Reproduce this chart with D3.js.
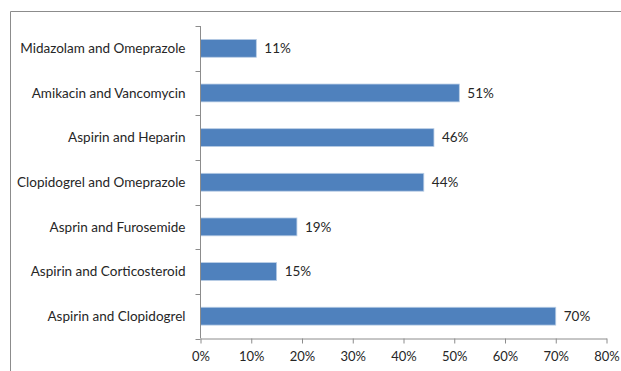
<!DOCTYPE html>
<html>
<head>
<meta charset="utf-8">
<script src="https://cdn.jsdelivr.net/npm/d3@7"></script>
<style>
  html, body { margin: 0; padding: 0; background: #fff; }
  svg { display: block; }
  text { font-family: Lato, "Open Sans", sans-serif; fill: #262626; }
</style>
</head>
<body>
<svg id="chart" width="621" height="371"></svg>
<script>
// Drug pairs, listed top to bottom as drawn
const categories = [
  "Midazolam and Omeprazole",
  "Amikacin and Vancomycin",
  "Aspirin and Heparin",
  "Clopidogrel and Omeprazole",
  "Asprin and Furosemide",
  "Aspirin and Corticosteroid",
  "Aspirin and Clopidogrel"
];
const values = [0.11, 0.51, 0.46, 0.44, 0.19, 0.15, 0.70];
const tickValues = [0, 0.1, 0.2, 0.3, 0.4, 0.5, 0.6, 0.7, 0.8];

const svg = d3.select("#chart");
const W = 621, H = 371;
const FS = 13.5;

// outer frame
svg.append("path")
  .attr("d", `M10.5,${H} V11.5 H${W}`)
  .attr("fill", "none")
  .attr("stroke", "#8c8c8c")
  .attr("stroke-width", 1);

const plot = { left: 200.5, right: 606.5, top: 26, bottom: 338.5 };

const x = d3.scaleLinear().domain([0, 0.8]).range([plot.left, plot.right]);
const y = d3.scaleBand().domain(categories).range([plot.top, plot.bottom])
  .paddingInner(0.6).paddingOuter(0.3);

// bars
svg.append("g").selectAll("rect")
  .data(values)
  .join("rect")
  .attr("x", x(0))
  .attr("y", (d, i) => y(categories[i]))
  .attr("width", d => x(d) - x(0))
  .attr("height", y.bandwidth())
  .attr("fill", "#4f81bd")
  .attr("stroke", "#b9cde5")
  .attr("stroke-width", 0.8);

// value labels
const fmt = d3.format(".0%");
svg.append("g").selectAll("text")
  .data(values)
  .join("text")
  .attr("x", d => x(d) + 8)
  .attr("y", (d, i) => y(categories[i]) + y.bandwidth() / 2)
  .attr("dy", "0.35em")
  .attr("font-size", FS)
  .text(d => fmt(d));

// x axis
const xAxis = svg.append("g")
  .attr("transform", `translate(0,${plot.bottom})`)
  .call(d3.axisBottom(x).tickValues(tickValues).tickFormat(fmt).tickSize(5).tickSizeOuter(0));
xAxis.select(".domain").attr("stroke", "#8c8c8c");
xAxis.selectAll(".tick line").attr("stroke", "#8c8c8c");
xAxis.selectAll(".tick text").attr("font-size", 13).attr("dy", "1.1em").attr("fill", "#262626")
  .attr("font-family", "Lato, 'Open Sans', sans-serif");

// y axis: ticks sit on band boundaries
const yAxis = svg.append("g").attr("transform", `translate(${plot.left},0)`);
const step = (plot.bottom - plot.top) / categories.length;
const bounds = d3.range(categories.length + 1).map(i => plot.top + i * step);
yAxis.append("line")
  .attr("x1", 0).attr("x2", 0)
  .attr("y1", plot.top).attr("y2", plot.bottom)
  .attr("stroke", "#8c8c8c");
yAxis.selectAll(".bt")
  .data(bounds)
  .join("line")
  .attr("x1", -5).attr("x2", 0)
  .attr("y1", d => Math.round(d) + 0.5).attr("y2", d => Math.round(d) + 0.5)
  .attr("stroke", "#8c8c8c");
yAxis.selectAll("text")
  .data(categories)
  .join("text")
  .attr("x", -15)
  .attr("y", d => y(d) + y.bandwidth() / 2)
  .attr("dy", "0.35em")
  .attr("text-anchor", "end")
  .attr("font-size", FS)
  .text(d => d);
</script>
</body>
</html>
